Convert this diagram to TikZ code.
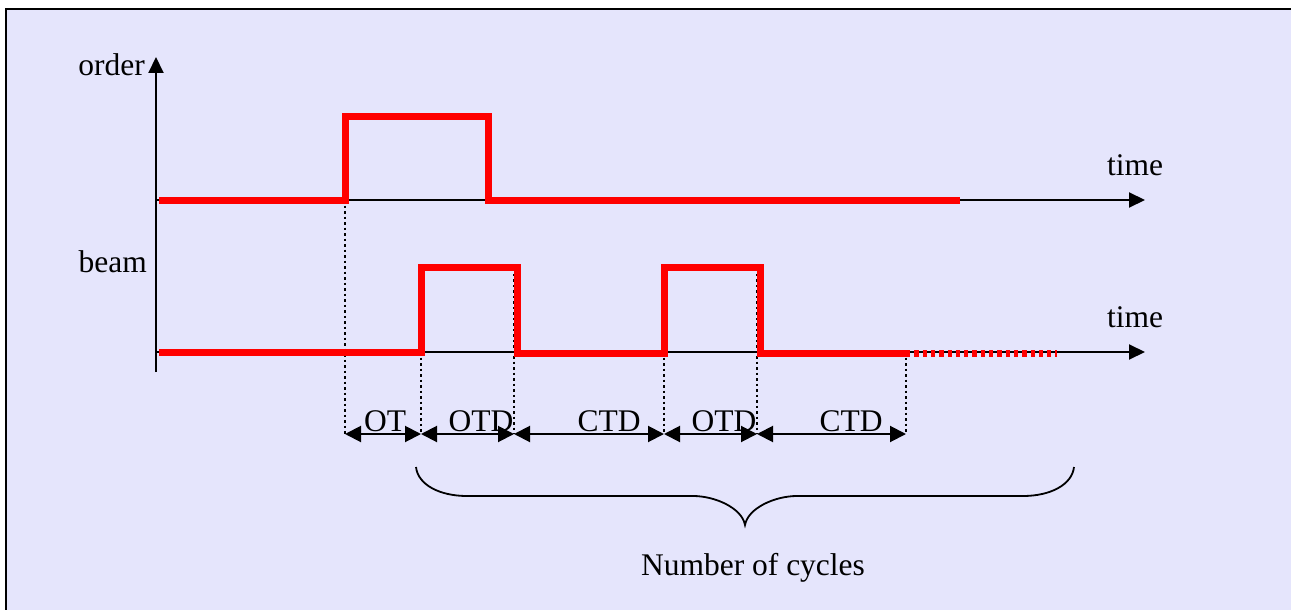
\documentclass[tikz,border=0pt]{standalone}
\usepackage{fontspec}
\setmainfont{Liberation Serif}
\usetikzlibrary{arrows.meta}
\definecolor{lav}{RGB}{229,229,252}
\begin{document}
\begin{tikzpicture}[x=1pt,y=-1pt,
  axis/.style={line width=2pt,-{Triangle[length=16pt,width=15pt]}},
  sig/.style={red,line width=7pt,line join=miter,line cap=butt},
  sigdash/.style={red,line width=7pt,dash pattern=on 4.3pt off 4pt},
  guide/.style={black,line width=2pt,dash pattern=on 2.5pt off 3pt},
  dim/.style={line width=2pt,{Triangle[length=16pt,width=16pt]}-{Triangle[length=16pt,width=16pt]}},
  lbl/.style={inner sep=0pt,font=\fontsize{31.5}{38}\selectfont},
  brace/.style={line width=1.8pt}]
\useasboundingbox (0,0) rectangle (1291,610);
\fill[white] (0,0) rectangle (1291,610);
\fill[lav] (6,9) rectangle (1291,610);
\draw[line width=2pt] (6,610) -- (6,9) -- (1291,9);

% coordinates
\coordinate (ybot) at (156,372);
\coordinate (ytop) at (156,57);
\coordinate (o0) at (156,200);
\coordinate (oend) at (1145,200);
\coordinate (b0) at (156,352);
\coordinate (bend) at (1145,352);

% axes
\draw[axis] (ybot) -- (ytop);
\draw[axis] (o0) -- (oend);
\draw[axis] (b0) -- (bend);

% guides
\coordinate (g1t) at (345,200);   \coordinate (g1) at (345,434);
\coordinate (g2t) at (421,352);   \coordinate (g2) at (421,434);
\coordinate (g3t) at (514,268);   \coordinate (g3) at (514,434);
\coordinate (g4t) at (664,352);   \coordinate (g4) at (664,434);
\coordinate (g5t) at (757,268);   \coordinate (g5) at (757,434);
\coordinate (g6t) at (906,352);   \coordinate (g6) at (906,434);
\foreach \i in {1,...,6} \draw[guide] (g\i t) -- (g\i);

% order signal
\draw[sig] (159,200) -- (345,200) -- (345,116) -- (488,116) -- (488,200) -- (960,200);
% beam signal
\draw[sig] (159,352) -- (421,352) -- (421,267) -- (517,267) -- (517,353) -- (664,353)
  -- (664,267) -- (760,267) -- (760,353) -- (906,353);
\draw[sigdash] (906,353) -- (1057,353);

% dimension arrows
\draw[dim] (g1) -- (g2);
\draw[dim] (g2) -- (g3);
\draw[dim] (g3) -- (g4);
\draw[dim] (g4) -- (g5);
\draw[dim] (g5) -- (g6);

% labels
\node[lbl,anchor=base east] (lorder) at (145,76) {order};
\node[lbl,anchor=base east] (lbeam) at (147,272) {beam};
\node[lbl,anchor=base] (ltime1) at (1135,175) {time};
\node[lbl,anchor=base] (ltime2) at (1135,327) {time};
\node[lbl,anchor=base] (lot) at (385,431) {OT};
\node[lbl,anchor=base] (lotd1) at (481,431) {OTD};
\node[lbl,anchor=base] (lctd1) at (609,431) {CTD};
\node[lbl,anchor=base] (lotd2) at (724,431) {OTD};
\node[lbl,anchor=base] (lctd2) at (851,431) {CTD};
\node[lbl,anchor=base] (lcyc) at (753,575) {Number of cycles};

% brace
\coordinate (bl) at (416,467);
\coordinate (bc) at (745,525);
\coordinate (br) at (1074,467);
\draw[brace] (bl) .. controls (418,485) and (440,496) .. (467,496) -- (693,496)
  .. controls (715,496) and (742,508) .. (bc)
  .. controls (748,508) and (775,496) .. (797,496) -- (1023,496)
  .. controls (1050,496) and (1072,485) .. (br);
\end{tikzpicture}
\end{document}
